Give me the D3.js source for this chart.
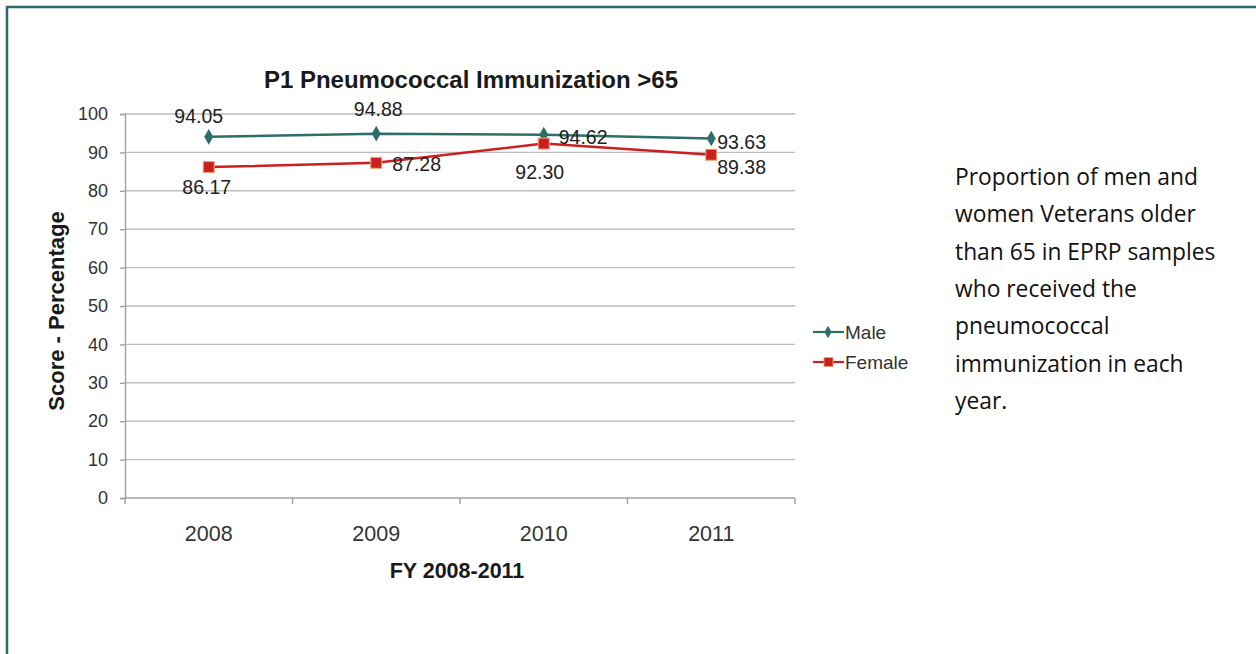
<!DOCTYPE html>
<html>
<head>
<meta charset="utf-8">
<script src="https://cdn.jsdelivr.net/npm/d3@7"></script>
<style>
  html, body { margin: 0; padding: 0; background: #fff; }
  svg { display: block; }
</style>
</head>
<body>
<svg id="chart" width="1256" height="654"></svg>
<script>
// Fiscal years and immunization scores
const years = ["2008", "2009", "2010", "2011"];
const maleValues = [94.05, 94.88, 94.62, 93.63];
const femaleValues = [86.17, 87.28, 92.30, 89.38];
const yTicks = [0, 10, 20, 30, 40, 50, 60, 70, 80, 90, 100];
const seriesNames = ["Male", "Female"];
const captionLines = [
  "Proportion of men and",
  "women Veterans older",
  "than 65 in EPRP samples",
  "who received the",
  "pneumococcal",
  "immunization in each",
  "year."
];

const svg = d3.select("#chart");
const font = "'Liberation Sans', Arial, sans-serif";

// Frame
svg.append("path")
  .attr("d", "M7,660 L7,7 L1260,7")
  .attr("fill", "none")
  .attr("stroke", "#2b6b6a")
  .attr("stroke-width", 2.5);

const plot = { left: 125, right: 795, top: 114, bottom: 498 };

const x = d3.scaleBand().domain(years).range([plot.left, plot.right]);
const y = d3.scaleLinear().domain([0, 100]).range([plot.bottom, plot.top]);

// Gridlines
svg.append("g").selectAll("line").data(yTicks.filter(d => d > 0)).join("line")
  .attr("x1", plot.left).attr("x2", plot.right)
  .attr("y1", d => y(d)).attr("y2", d => y(d))
  .attr("stroke", "#bdbdbd").attr("stroke-width", 1.4);

// Y axis
const yAxis = svg.append("g")
  .attr("transform", `translate(${plot.left},0)`)
  .call(d3.axisLeft(y).tickValues(yTicks).tickSize(5).tickPadding(12));
yAxis.select(".domain").attr("stroke", "#a0a0a0").attr("stroke-width", 1.4);
yAxis.selectAll(".tick line").attr("stroke", "#a0a0a0").attr("stroke-width", 1.4);
yAxis.selectAll("text").attr("font-family", font).attr("font-size", 18).attr("fill", "#333");

// X axis with ticks at category boundaries
const xAxisG = svg.append("g").attr("transform", `translate(0,${plot.bottom})`);
xAxisG.append("line")
  .attr("x1", plot.left).attr("x2", plot.right)
  .attr("stroke", "#a0a0a0").attr("stroke-width", 1.4);
const boundaries = years.map(d => x(d)).concat([x(years[years.length - 1]) + x.bandwidth()]);
xAxisG.selectAll("line.tk").data(boundaries).join("line").attr("class", "tk")
  .attr("x1", d => d).attr("x2", d => d).attr("y1", 0).attr("y2", 6)
  .attr("stroke", "#a0a0a0").attr("stroke-width", 1.4);
xAxisG.selectAll("text").data(years).join("text")
  .attr("x", d => x(d) + x.bandwidth() / 2)
  .attr("y", 43)
  .attr("text-anchor", "middle")
  .attr("font-family", font).attr("font-size", 21.5).attr("fill", "#333")
  .text(d => d);

const cx = d => x(d) + x.bandwidth() / 2;

// Title
svg.append("text")
  .attr("x", 471).attr("y", 88)
  .attr("text-anchor", "middle")
  .attr("font-family", font).attr("font-weight", "bold").attr("font-size", 24)
  .attr("fill", "#1a1a1a")
  .text("P1 Pneumococcal Immunization >65");

// Axis titles
svg.append("text")
  .attr("x", 457).attr("y", 578)
  .attr("text-anchor", "middle")
  .attr("font-family", font).attr("font-weight", "bold").attr("font-size", 21.5)
  .attr("fill", "#1a1a1a")
  .text("FY 2008-2011");
svg.append("text")
  .attr("transform", "translate(64,311) rotate(-90)")
  .attr("text-anchor", "middle")
  .attr("font-family", font).attr("font-weight", "bold").attr("font-size", 22)
  .attr("fill", "#1a1a1a")
  .text("Score - Percentage");

const maleColor = "#2d6e6b";
const femaleColor = "#cc2020";
const line = d3.line().x(d => cx(d.year)).y(d => y(d.value));
const maleData = years.map((yr, i) => ({ year: yr, value: maleValues[i] }));
const femaleData = years.map((yr, i) => ({ year: yr, value: femaleValues[i] }));

svg.append("path").datum(maleData).attr("d", line)
  .attr("fill", "none").attr("stroke", maleColor).attr("stroke-width", 2.5);
svg.append("path").datum(femaleData).attr("d", line)
  .attr("fill", "none").attr("stroke", femaleColor).attr("stroke-width", 2.5);

const diamond = d3.symbol().type(d3.symbolDiamond).size(70);
svg.append("g").selectAll("path").data(maleData).join("path")
  .attr("transform", d => `translate(${cx(d.year)},${y(d.value)})`)
  .attr("d", diamond).attr("fill", maleColor);

svg.append("g").selectAll("rect").data(femaleData).join("rect")
  .attr("x", d => cx(d.year) - 5.5).attr("y", d => y(d.value) - 5.5)
  .attr("width", 11).attr("height", 11)
  .attr("fill", femaleColor).attr("stroke", "#e9a87a").attr("stroke-width", 1);

// Value labels: offsets per point [dx, dy, anchor]
const maleLabelPos = [[-10, -14, "middle"], [2, -18, "middle"], [15, 9, "start"], [6, 11, "start"]];
const femaleLabelPos = [[-2, 27, "middle"], [16, 8, "start"], [-4, 35, "middle"], [6, 19, "start"]];
function labels(data, pos) {
  svg.append("g").selectAll("text").data(data).join("text")
    .attr("x", (d, i) => cx(d.year) + pos[i][0])
    .attr("y", (d, i) => y(d.value) + pos[i][1])
    .attr("text-anchor", (d, i) => pos[i][2])
    .attr("font-family", font).attr("font-size", 19.5).attr("fill", "#222")
    .text(d => d.value.toFixed(2));
}
labels(maleData, maleLabelPos);
labels(femaleData, femaleLabelPos);

// Legend
const legend = svg.append("g").attr("transform", "translate(813,0)");
const legendRows = [
  { name: seriesNames[0], color: maleColor, y: 332, shape: "diamond" },
  { name: seriesNames[1], color: femaleColor, y: 362, shape: "square" }
];
legendRows.forEach(r => {
  legend.append("line").attr("x1", 0).attr("x2", 31).attr("y1", r.y).attr("y2", r.y)
    .attr("stroke", r.color).attr("stroke-width", 2.2);
  if (r.shape === "diamond") {
    legend.append("path").attr("transform", `translate(15,${r.y})`)
      .attr("d", d3.symbol().type(d3.symbolDiamond).size(45)).attr("fill", r.color);
  } else {
    legend.append("rect").attr("x", 11).attr("y", r.y - 4.5).attr("width", 9).attr("height", 9)
      .attr("fill", r.color).attr("stroke", "#e9a87a").attr("stroke-width", 0.8);
  }
  legend.append("text").attr("x", 32).attr("y", r.y + 7)
    .attr("font-family", font).attr("font-size", 19).attr("fill", "#333")
    .text(r.name);
});

// Caption
svg.append("g").selectAll("text").data(captionLines).join("text")
  .attr("x", 955)
  .attr("y", (d, i) => 185 + i * 37.3)
  .attr("font-family", "'Open Sans', 'Noto Sans', sans-serif")
  .attr("font-size", 22.8)
  .attr("fill", "#111")
  .text(d => d);
</script>
</body>
</html>
